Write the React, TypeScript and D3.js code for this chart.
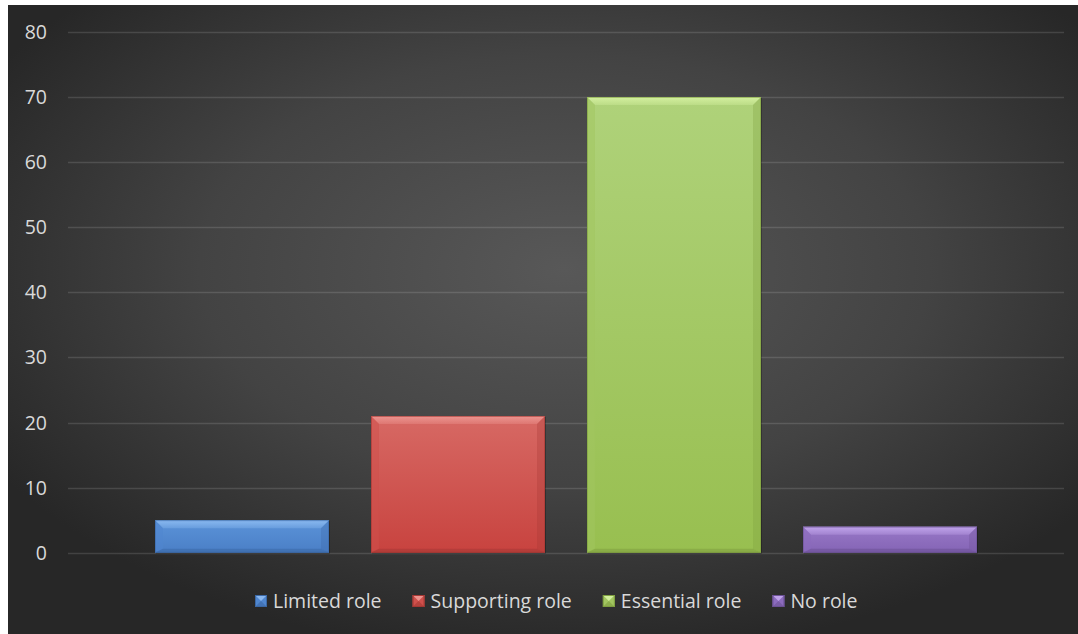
import React, { useEffect, useRef } from "react";
import * as d3 from "d3";

const categories = ["Role"];
const seriesNames = ["Limited role", "Supporting role", "Essential role", "No role"];
const seriesValues = [5, 21, 70, 4];
const yTicks = [0, 10, 20, 30, 40, 50, 60, 70, 80];

const palette = [
  { base: "#4f86cf", top: "#5b93d9", bottom: "#4a7fc6", light: "#8fbdf2", dark: "#3b68a5" },
  { base: "#cf504c", top: "#d76964", bottom: "#c8433f", light: "#ef9a95", dark: "#a53834" },
  { base: "#a2c660", top: "#afd27a", bottom: "#98bf50", light: "#d8f3a4", dark: "#7f9f40" },
  { base: "#8c6bbd", top: "#9878c7", bottom: "#8464b5", light: "#c4a8ee", dark: "#6c5196" },
];

const W = 1078;
const H = 634;
const FONT = 19.5;

export default function App() {
  const ref = useRef<SVGSVGElement | null>(null);

  useEffect(() => {
    const svg = d3.select(ref.current);
    svg.selectAll("*").remove();

    const defs = svg.append("defs");
    const bg = defs
      .append("radialGradient")
      .attr("id", "bg")
      .attr("cx", "52%")
      .attr("cy", "42%")
      .attr("r", "62%");
    bg.append("stop").attr("offset", "0%").attr("stop-color", "#585858");
    bg.append("stop").attr("offset", "55%").attr("stop-color", "#434343");
    bg.append("stop").attr("offset", "100%").attr("stop-color", "#272727");

    palette.forEach((p, i) => {
      const g = defs
        .append("linearGradient")
        .attr("id", "bar" + i)
        .attr("x1", 0)
        .attr("y1", 0)
        .attr("x2", 0)
        .attr("y2", 1);
      g.append("stop").attr("offset", "0%").attr("stop-color", p.top);
      g.append("stop").attr("offset", "100%").attr("stop-color", p.bottom);
      const h = defs
        .append("linearGradient")
        .attr("id", "hl" + i)
        .attr("x1", 0)
        .attr("y1", 0)
        .attr("x2", 0)
        .attr("y2", 1);
      h.append("stop").attr("offset", "0%").attr("stop-color", p.light).attr("stop-opacity", 1);
      h.append("stop").attr("offset", "100%").attr("stop-color", p.light).attr("stop-opacity", 0.35);
    });

    svg.append("rect").attr("x", 0).attr("y", 0).attr("width", W).attr("height", H).attr("fill", "#ffffff");
    svg.append("rect").attr("x", 8).attr("y", 5).attr("width", W - 8).attr("height", H - 5).attr("fill", "url(#bg)");

    const y = d3.scaleLinear().domain([0, 80]).range([552.7, 31.9]);
    const x0 = d3.scaleBand<string>().domain(categories).range([68, 1064]).paddingInner(0.0957).paddingOuter(0.0957);
    const x1 = d3.scaleBand<string>().domain(seriesNames).range([0, x0.bandwidth()]).paddingInner(0.1944);

    svg
      .append("g")
      .selectAll("line")
      .data(yTicks)
      .join("line")
      .attr("x1", 68)
      .attr("x2", 1064)
      .attr("y1", (d) => Math.round(y(d)) + 0.5)
      .attr("y2", (d) => Math.round(y(d)) + 0.5)
      .attr("stroke", "#ffffff")
      .attr("stroke-opacity", 0.13)
      .attr("stroke-width", 1.5);

    svg
      .append("g")
      .selectAll("text")
      .data(yTicks)
      .join("text")
      .attr("x", 47)
      .attr("y", (d) => y(d))
      .attr("dy", "0.36em")
      .attr("text-anchor", "end")
      .attr("fill", "#d9d9d9")
      .attr("font-family", "'Open Sans', sans-serif")
      .attr("font-size", FONT)
      .text((d) => String(d));

    const bars = svg.append("g");
    categories.forEach((cat) => {
      seriesNames.forEach((name, i) => {
        const v = seriesValues[i];
        const p = palette[i];
        const bx = (x0(cat) as number) + (x1(name) as number);
        const bw = x1.bandwidth();
        const by = y(v);
        const bh = y(0) - y(v);
        const b = Math.min(8, bh / 3);
        const g = bars.append("g");
        g.append("rect")
          .attr("x", bx + 1)
          .attr("y", by + 1)
          .attr("width", bw)
          .attr("height", bh)
          .attr("fill", "#000")
          .attr("opacity", 0.25);
        g.append("rect").attr("x", bx).attr("y", by).attr("width", bw).attr("height", bh).attr("fill", `url(#bar${i})`);
        g.append("polygon")
          .attr("points", `${bx},${by} ${bx + bw},${by} ${bx + bw - b},${by + b} ${bx + b},${by + b}`)
          .attr("fill", `url(#hl${i})`)
          .attr("opacity", 0.9);
        g.append("polygon")
          .attr("points", `${bx},${by} ${bx + b},${by + b} ${bx + b},${by + bh - b / 2} ${bx},${by + bh}`)
          .attr("fill", p.base)
          .attr("opacity", 0.5);
        g.append("polygon")
          .attr("points", `${bx + bw},${by} ${bx + bw - b},${by + b} ${bx + bw - b},${by + bh - b / 2} ${bx + bw},${by + bh}`)
          .attr("fill", p.dark)
          .attr("opacity", 0.3);
        g.append("polygon")
          .attr("points", `${bx},${by + bh} ${bx + b},${by + bh - b / 2} ${bx + bw - b},${by + bh - b / 2} ${bx + bw},${by + bh}`)
          .attr("fill", p.dark)
          .attr("opacity", 0.55);
        g.append("rect")
          .attr("x", bx + 0.5)
          .attr("y", by + 0.5)
          .attr("width", bw - 1)
          .attr("height", bh - 1)
          .attr("fill", "none")
          .attr("stroke", p.dark)
          .attr("stroke-opacity", 0.6);
      });
    });

    const leg = svg.append("g");
    let lx = 255;
    const ly = 595;
    const ms = 12;
    seriesNames.forEach((name, i) => {
      const p = palette[i];
      const g = leg.append("g");
      g.append("rect").attr("x", lx).attr("y", ly).attr("width", ms).attr("height", ms).attr("fill", p.base);
      g.append("polygon")
        .attr("points", `${lx},${ly} ${lx + ms},${ly} ${lx + ms / 2},${ly + ms / 2}`)
        .attr("fill", p.light)
        .attr("opacity", 0.9);
      g.append("polygon")
        .attr("points", `${lx},${ly + ms} ${lx + ms},${ly + ms} ${lx + ms / 2},${ly + ms / 2}`)
        .attr("fill", p.dark)
        .attr("opacity", 0.6);
      g.append("rect")
        .attr("x", lx + 0.5)
        .attr("y", ly + 0.5)
        .attr("width", ms - 1)
        .attr("height", ms - 1)
        .attr("fill", "none")
        .attr("stroke", p.dark);
      const t = g
        .append("text")
        .attr("x", lx + ms + 6)
        .attr("y", 608)
        .attr("fill", "#d9d9d9")
        .attr("font-family", "'Open Sans', sans-serif")
        .attr("font-size", FONT)
        .text(name);
      const tw = (t.node() as SVGTextElement).getComputedTextLength();
      lx = lx + ms + 6 + tw + 31;
    });
  }, []);

  return (
    <svg
      ref={ref}
      width={W}
      height={H}
      style={{ position: "absolute", left: 0, top: 0, display: "block" }}
    />
  );
}
